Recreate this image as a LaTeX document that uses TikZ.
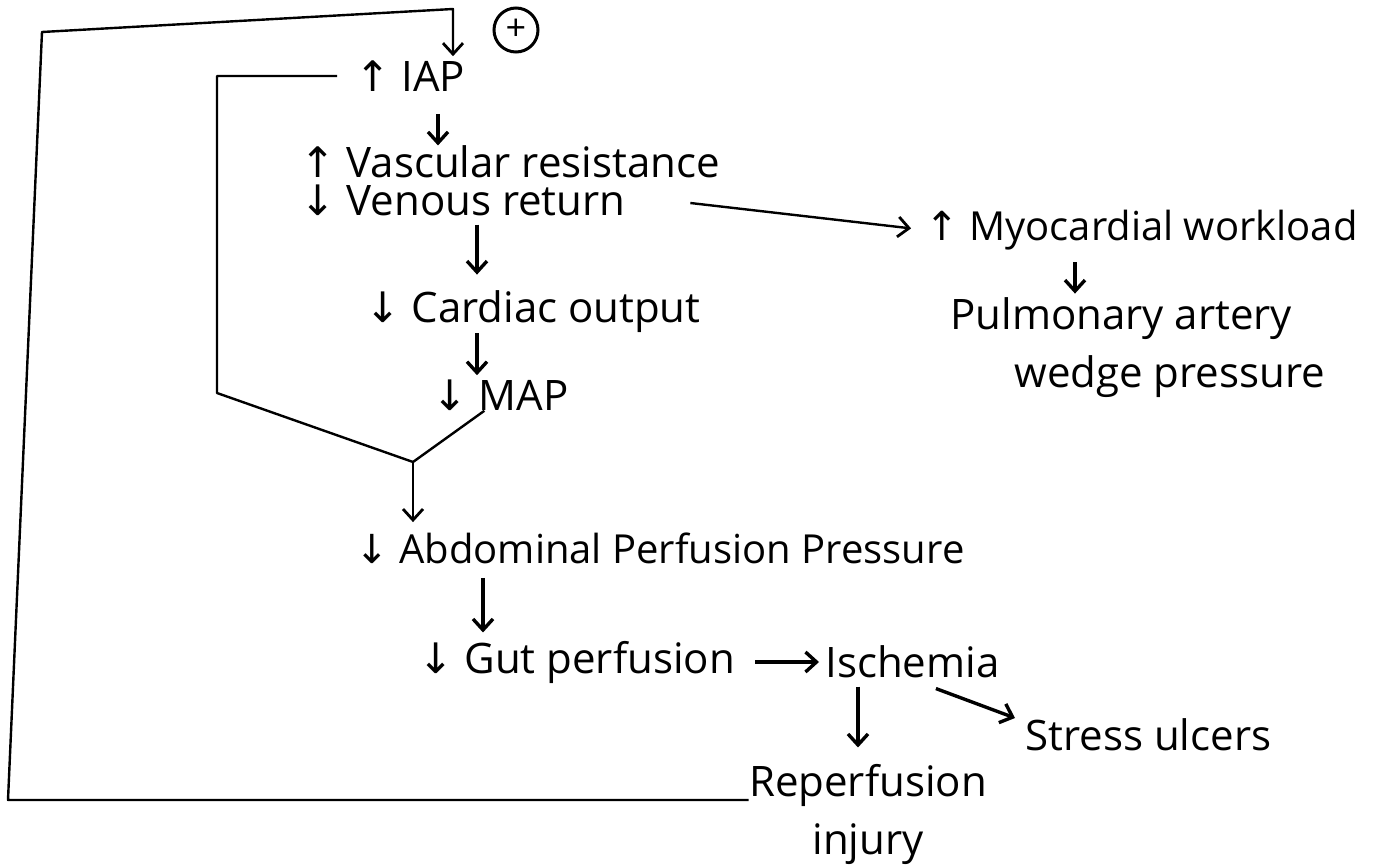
\documentclass[tikz,border=0pt]{standalone}
\usepackage{fontspec}
\setmainfont{Open Sans}
\newfontfamily\symfont{DejaVu Sans}
\usetikzlibrary{arrows.meta}
\newcommand{\upar}{{\symfont ↑}}
\newcommand{\dnar}{{\symfont ↓}}
\begin{document}
\begin{tikzpicture}[x=0.5pt,y=-0.5pt,
  lbl/.style={inner sep=0pt,font=\fontsize{21}{29}\selectfont},
  link/.style={line width=1.2pt,line join=round},
  conn/.style={link,-{Straight Barb[length=5.5pt,width=10pt,line width=1.4pt]}},
  hand/.style={line width=1.7pt,-{Straight Barb[length=5.5pt,width=10pt,line width=1.7pt]}}]
  \fill[white] (0,0) rectangle (1389,867);
  \useasboundingbox (0,0) rectangle (1389,867);

  % cascade of effects
  \node[lbl,anchor=west] (iap)  at (355,76)  {\upar\ IAP};
  \node[lbl,anchor=west,align=left,font=\fontsize{21}{19}\selectfont] (vr) at (300,181)
        {\upar\ Vascular resistance\\\dnar\ Venous return};
  \node[lbl,anchor=west] (card) at (365,312) {\dnar\ Cardiac output};
  \node[lbl,anchor=west] (map)  at (432,395) {\dnar\ MAP};
  \node[lbl,anchor=west,font=\fontsize{20}{24}\selectfont] (abd) at (355,548)
        {\dnar\ Abdominal Perfusion Pressure};
  \node[lbl,anchor=west] (gut)  at (418,662) {\dnar\ Gut perfusion};
  \node[lbl,anchor=west] (isch) at (825,662) {Ischemia};
  \node[lbl,anchor=west] (ulc)  at (1025,735) {Stress ulcers};
  \node[lbl,align=center] (rep) at (868,814) {Reperfusion\\injury};
  \node[lbl,anchor=west,font=\fontsize{20}{24}\selectfont] (myo) at (925,230)
        {\upar\ Myocardial workload};
  \node[lbl,anchor=west,align=left] (pul) at (950,348)
        {Pulmonary artery\\\hspace*{32pt}wedge pressure};
  \node[circle,draw,line width=1.5pt,minimum size=22pt,inner sep=0pt,
        font=\fontsize{18}{20}\selectfont] (pos) at (516,30) {+};

  % corners of the feedback loops
  \coordinate (c1) at (8,800);
  \coordinate (c2) at (42,32);
  \coordinate (c3) at (453,9);
  \coordinate (b1) at (217,76);
  \coordinate (b2) at (217,393);
  \coordinate (jn) at (413,462);
  % columns of the vertical arrows
  \coordinate (k1) at (438,0);
  \coordinate (k2) at (477,0);
  \coordinate (k3) at (483,0);
  \coordinate (k4) at (858,0);
  \coordinate (k5) at (1075,0);

  % positive feedback back to IAP
  \draw[conn,shorten >=2pt] (rep.west |- c1) -- (c1) -- (c2) -- (c3) -- (c3 |- iap.north);
  % IAP and MAP both lower the abdominal perfusion pressure
  \draw[link,shorten <=9pt] (iap.west) -- (iap.west -| b1) -- (b2) -- (jn);
  \draw[link] ([xshift=-8pt]map.south) -- (jn);
  \draw[conn,shorten >=5pt] (jn) -- (jn |- abd.north);

  \draw[hand,shorten <=11pt] (iap.south -| k1) -- (vr.north -| k1);
  \draw[hand,shorten <=4pt,shorten >=8pt] (vr.south -| k2) -- (card.north -| k2);
  \draw[hand,shorten >=2pt] (card.south -| k2) -- (map.north -| k2);
  \draw[conn,shorten >=7pt] ([xshift=-15pt,yshift=-11pt]vr.east) -- (myo.west);
  \draw[hand,shorten <=6pt,shorten >=2pt] (myo.south -| k5) -- (pul.north -| k5);
  \draw[hand,shorten <=7pt,shorten >=4pt] (abd.south -| k3) -- (gut.north -| k3);
  \draw[hand,shorten <=10pt,shorten >=3pt] (gut.east) -- (isch.west);
  \draw[hand,shorten <=4pt,shorten >=8pt] (isch.south -| k4) -- (rep.north -| k4);
  \draw[hand] ([xshift=-32pt,yshift=-5pt]isch.south east) -- ([xshift=-5pt,yshift=8.5pt]ulc.west);
\end{tikzpicture}
\end{document}
